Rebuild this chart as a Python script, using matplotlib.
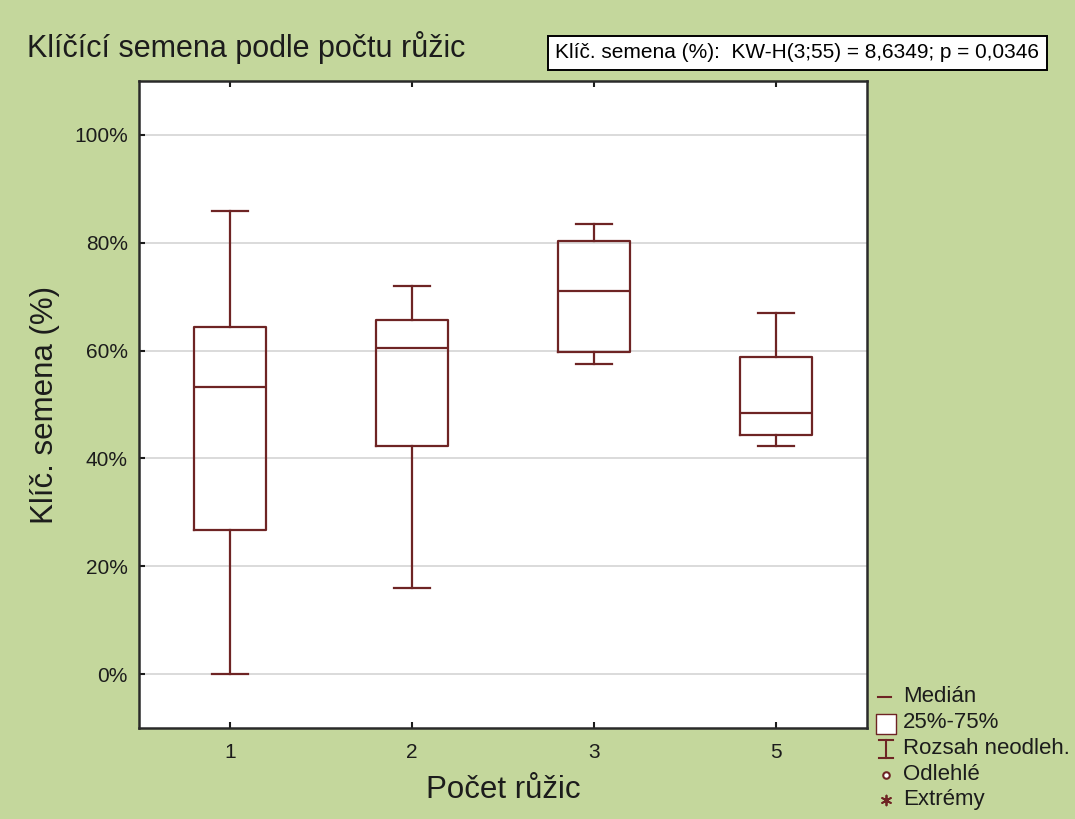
"""
Krabicový graf: klíčící semena podle počtu růžic (Kruskal-Wallis).
"""

import matplotlib
matplotlib.use("Agg")
import matplotlib.pyplot as plt
from matplotlib.ticker import FuncFormatter

# ---- data (v %) ----
categories = ["1", "2", "3", "5"]
whisker_low = [0.0, 16.0, 57.5, 42.3]
quart_1 = [26.7, 42.3, 59.7, 44.3]
median = [53.3, 60.4, 71.0, 48.5]
quart_3 = [64.3, 65.6, 80.4, 58.8]
whisker_high = [85.8, 72.0, 83.5, 66.9]

legend_labels = ["Medián", "25%-75%", "Rozsah neodleh.", "Odlehlé", "Extrémy"]
stat_text = "Klíč. semena (%):  KW-H(3;55) = 8,6349; p = 0,0346"

BG = "#c4d79c"
BOX = "#6e2424"
TXT = "#1c1c1c"
W, H = 1075, 819

plt.rcParams["font.family"] = ["Liberation Sans", "DejaVu Sans"]


def main():
    fig = plt.figure(figsize=(W / 100, H / 100), dpi=100, facecolor=BG)
    ax = fig.add_axes([139 / W, 1 - 728 / H, (867 - 139) / W, (728 - 81) / H])
    ax.set_facecolor("white")

    stats = []
    for i, c in enumerate(categories):
        stats.append(dict(label=c, whislo=whisker_low[i], q1=quart_1[i], med=median[i],
                          q3=quart_3[i], whishi=whisker_high[i], fliers=[]))
    line = dict(color=BOX, linewidth=1.6)
    ax.bxp(stats, positions=range(1, len(categories) + 1), widths=0.4,
           boxprops=line, medianprops=line, whiskerprops=line, capprops=line,
           showfliers=False, manage_ticks=False, zorder=3)

    ax.set_xlim(0.5, len(categories) + 0.5)
    ax.set_ylim(-10, 110)
    ax.set_xticks(range(1, len(categories) + 1))
    ax.set_xticklabels(categories)
    ax.set_yticks(range(0, 101, 20))
    ax.yaxis.set_major_formatter(FuncFormatter(lambda v, p: f"{v:.0f}%"))
    ax.tick_params(direction="in", length=4, width=1.5, color=TXT,
                   labelsize=15, labelcolor=TXT, pad=8)
    ax.tick_params(axis="x", top=True, pad=11)
    ax.grid(axis="y", color="#d4d4d4", linewidth=1.2, zorder=0)
    for s in ax.spines.values():
        s.set_linewidth(1.8)
        s.set_color("#2a2a2a")

    ax.set_xlabel("Počet růžic", fontsize=22.5, color=TXT, labelpad=9)
    ax.set_ylabel("Klíč. semena (%)", fontsize=22.5, color=TXT, labelpad=10)

    fig.text(27 / W, 1 - 57 / H, "Klíčící semena podle počtu růžic", fontsize=22,
             color=TXT, va="baseline", ha="left")
    fig.text(555 / W, 1 - 53 / H, stat_text, fontsize=15, color="black",
             va="center", ha="left",
             bbox=dict(boxstyle="square,pad=0.36", facecolor="white",
                       edgecolor="black", linewidth=1.4))

    # ---- legenda (osa v pixelech obrázku) ----
    lg = fig.add_axes([860 / W, 0, 215 / W, 140 / H])
    lg.set_xlim(860, 1075)
    lg.set_ylim(819, 679)
    lg.axis("off")
    rows = [697, 723, 749, 775, 800]
    sx = 886
    lg.plot([878, 891], [rows[0], rows[0]], color=BOX, lw=1.5)
    lg.scatter([sx], [rows[1] + 1], marker="s", s=200, facecolor="white",
               edgecolor=BOX, linewidth=1.0)
    lg.plot([sx, sx], [rows[2] - 9, rows[2] + 9], color=BOX, lw=1.5)
    lg.plot([879, 893], [rows[2] - 9, rows[2] - 9], color=BOX, lw=1.5)
    lg.plot([879, 893], [rows[2] + 9, rows[2] + 9], color=BOX, lw=1.5)
    lg.scatter([sx], [rows[3]], marker="o", s=22, facecolor="white",
               edgecolor=BOX, linewidth=1.5)
    lg.scatter([sx], [rows[4]], marker=(6, 2, 0), s=50, color=BOX, linewidth=1.3)
    for y, lab in zip(rows, legend_labels):
        lg.text(903, y, lab, fontsize=16, color=TXT, va="center", ha="left")

    fig.savefig("out.png", dpi=100, facecolor=BG)
    plt.close(fig)


if __name__ == "__main__":
    main()
